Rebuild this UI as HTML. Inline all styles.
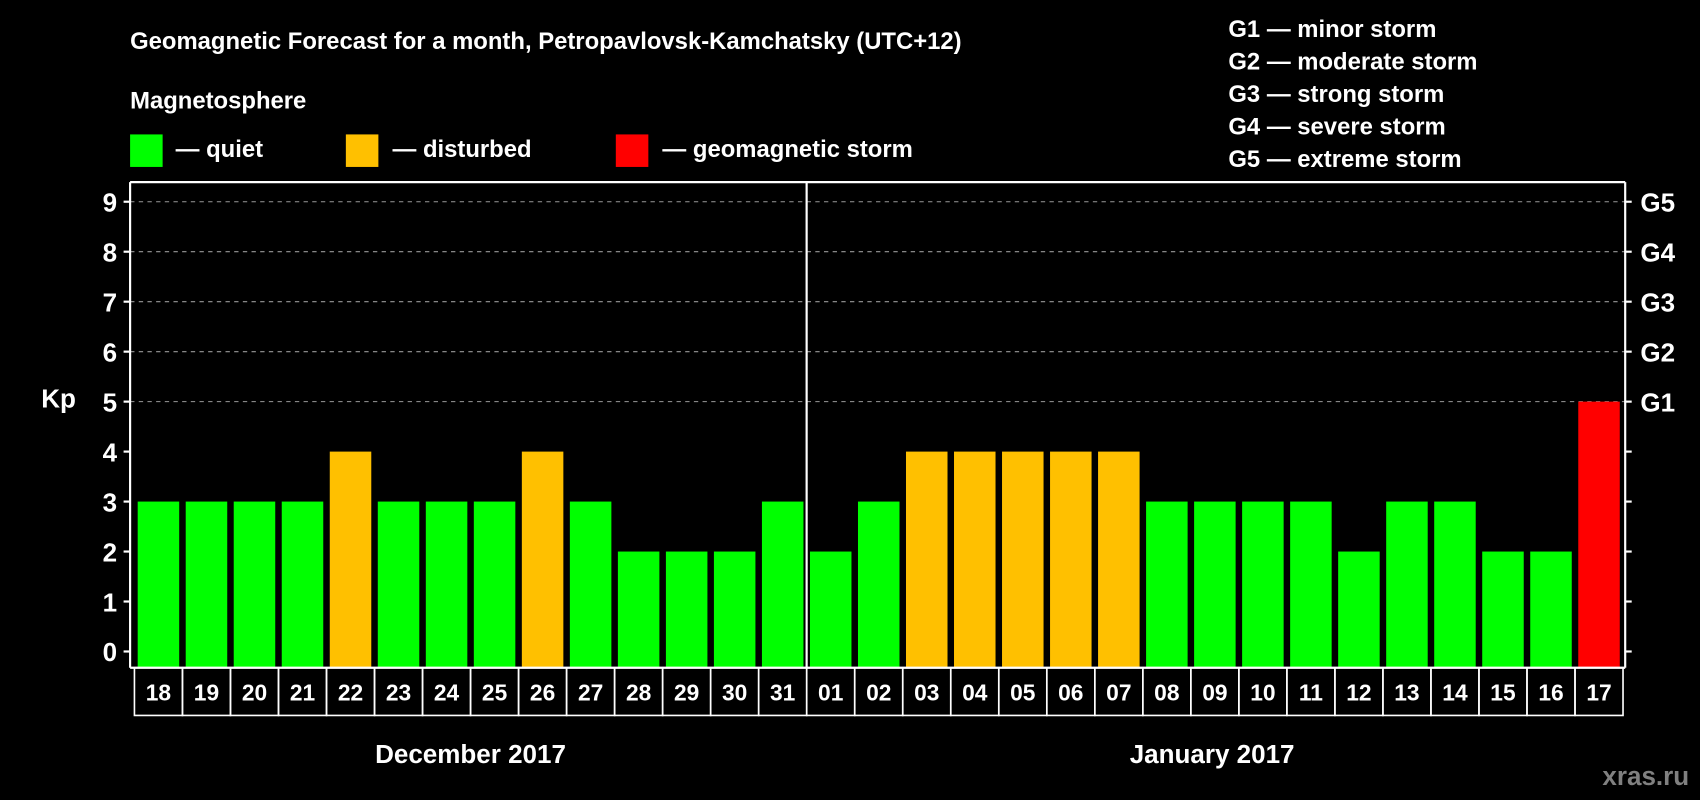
<!DOCTYPE html>
<html><head><meta charset="utf-8"><style>
html,body{margin:0;padding:0;background:#000;width:1700px;height:800px;overflow:hidden}
svg{display:block}
text{font-family:"Liberation Sans",Arial,sans-serif;font-weight:bold;fill:#fff}
</style></head><body>
<svg id="chart" width="1700" height="800" viewBox="0 0 1568 738" preserveAspectRatio="none" xmlns="http://www.w3.org/2000/svg">
<rect width="1568" height="738" fill="#000"/>
<text x="120" y="45" font-size="22">Geomagnetic Forecast for a month, Petropavlovsk-Kamchatsky (UTC+12)</text>
<text x="120" y="100" font-size="22">Magnetosphere</text>
<g>
<rect x="120" y="124" width="30" height="30" fill="#00ff00"/>
<text x="162" y="145" font-size="22">— quiet</text>
<rect x="319" y="124" width="30" height="30" fill="#ffc000"/>
<text x="362" y="145" font-size="22">— disturbed</text>
<rect x="568" y="124" width="30" height="30" fill="#ff0000"/>
<text x="611" y="145" font-size="22">— geomagnetic storm</text>
</g>
<g font-size="22">
<text x="1133" y="34">G1 — minor storm</text>
<text x="1133" y="64">G2 — moderate storm</text>
<text x="1133" y="94">G3 — strong storm</text>
<text x="1133" y="124">G4 — severe storm</text>
<text x="1133" y="154">G5 — extreme storm</text>
</g>
<g id="plot"></g>
<text x="38" y="376" font-size="24">Kp</text>
<text x="434" y="704" font-size="24" text-anchor="middle">December 2017</text>
<text x="1118" y="704" font-size="24" text-anchor="middle">January 2017</text>
<text x="1558" y="724" font-size="24" text-anchor="end" style="fill:#808080">xras.ru</text>
</svg>
<script>
const days = ["18","19","20","21","22","23","24","25","26","27","28","29","30","31","01","02","03","04","05","06","07","08","09","10","11","12","13","14","15","16","17"];
const kpValues = [3,3,3,3,4,3,3,3,4,3,2,2,2,3,2,3,4,4,4,4,4,3,3,3,3,2,3,3,2,2,5];
const yTicks = [0,1,2,3,4,5,6,7,8,9];
const gLabels = ["G1","G2","G3","G4","G5"];
const gLevels = [5,6,7,8,9];

const NS="http://www.w3.org/2000/svg";
const g=document.getElementById('plot');
const L=120,R=1499,T=168,B=616,colL=124,colR=1497;
const y0=601,unit=46.1;
const yScale=v=>y0-v*unit;
const colW=(colR-colL)/days.length;
const xScale=i=>colL+i*colW;
function mk(tag,attrs){const e=document.createElementNS(NS,tag);for(const k in attrs)e.setAttribute(k,attrs[k]);g.appendChild(e);return e;}
function color(v){return v>=5?"#ff0000":(v>=4?"#ffc000":"#00ff00");}

// gridlines
gLevels.forEach((v,i)=>{
  const l=mk('line',{x1:L,x2:R,y1:yScale(v),y2:yScale(v),stroke:'#999','stroke-dasharray':'4 4','stroke-width':1});
  
  
});
// bars
kpValues.forEach((v,i)=>{
  const r=mk('rect',{x:xScale(i)+3,y:yScale(v),width:colW-6,height:B-yScale(v),fill:color(v)});
  
  
});
// frame
[[L,T,R,T],[L,T,L,B],[R,T,R,B],[744,T,744,B],[L,B,R,B]].forEach((c,i)=>{
  const l=mk('line',{x1:c[0],y1:c[1],x2:c[2],y2:c[3],stroke:'#fff','stroke-width':2});
  
  
});
// y ticks
yTicks.forEach(v=>{
  const y=yScale(v);
  const t=mk('line',{x1:L-6,x2:L,y1:y,y2:y,stroke:'#fff','stroke-width':2});
  
  
  const t2=mk('line',{x1:R,x2:R+6,y1:y,y2:y,stroke:'#fff','stroke-width':2});
  
  
  const tx=mk('text',{x:L-12,y:y+9,'font-size':24,'text-anchor':'end'});
  tx.textContent=v;
  
  
});
gLevels.forEach((v,i)=>{
  const tx=mk('text',{x:R+14,y:yScale(v)+9,'font-size':24});
  tx.textContent=gLabels[i];
  
  
});
// day label boxes
days.forEach((d,i)=>{
  const r=mk('rect',{x:xScale(i),y:B,width:colW,height:44,fill:'none',stroke:'#fff','stroke-width':1.5});
  
  
  const tx=mk('text',{x:xScale(i)+colW/2,y:B+30,'font-size':21,'text-anchor':'middle'});
  tx.textContent=d;
  
  
});
</script>
</body></html>
